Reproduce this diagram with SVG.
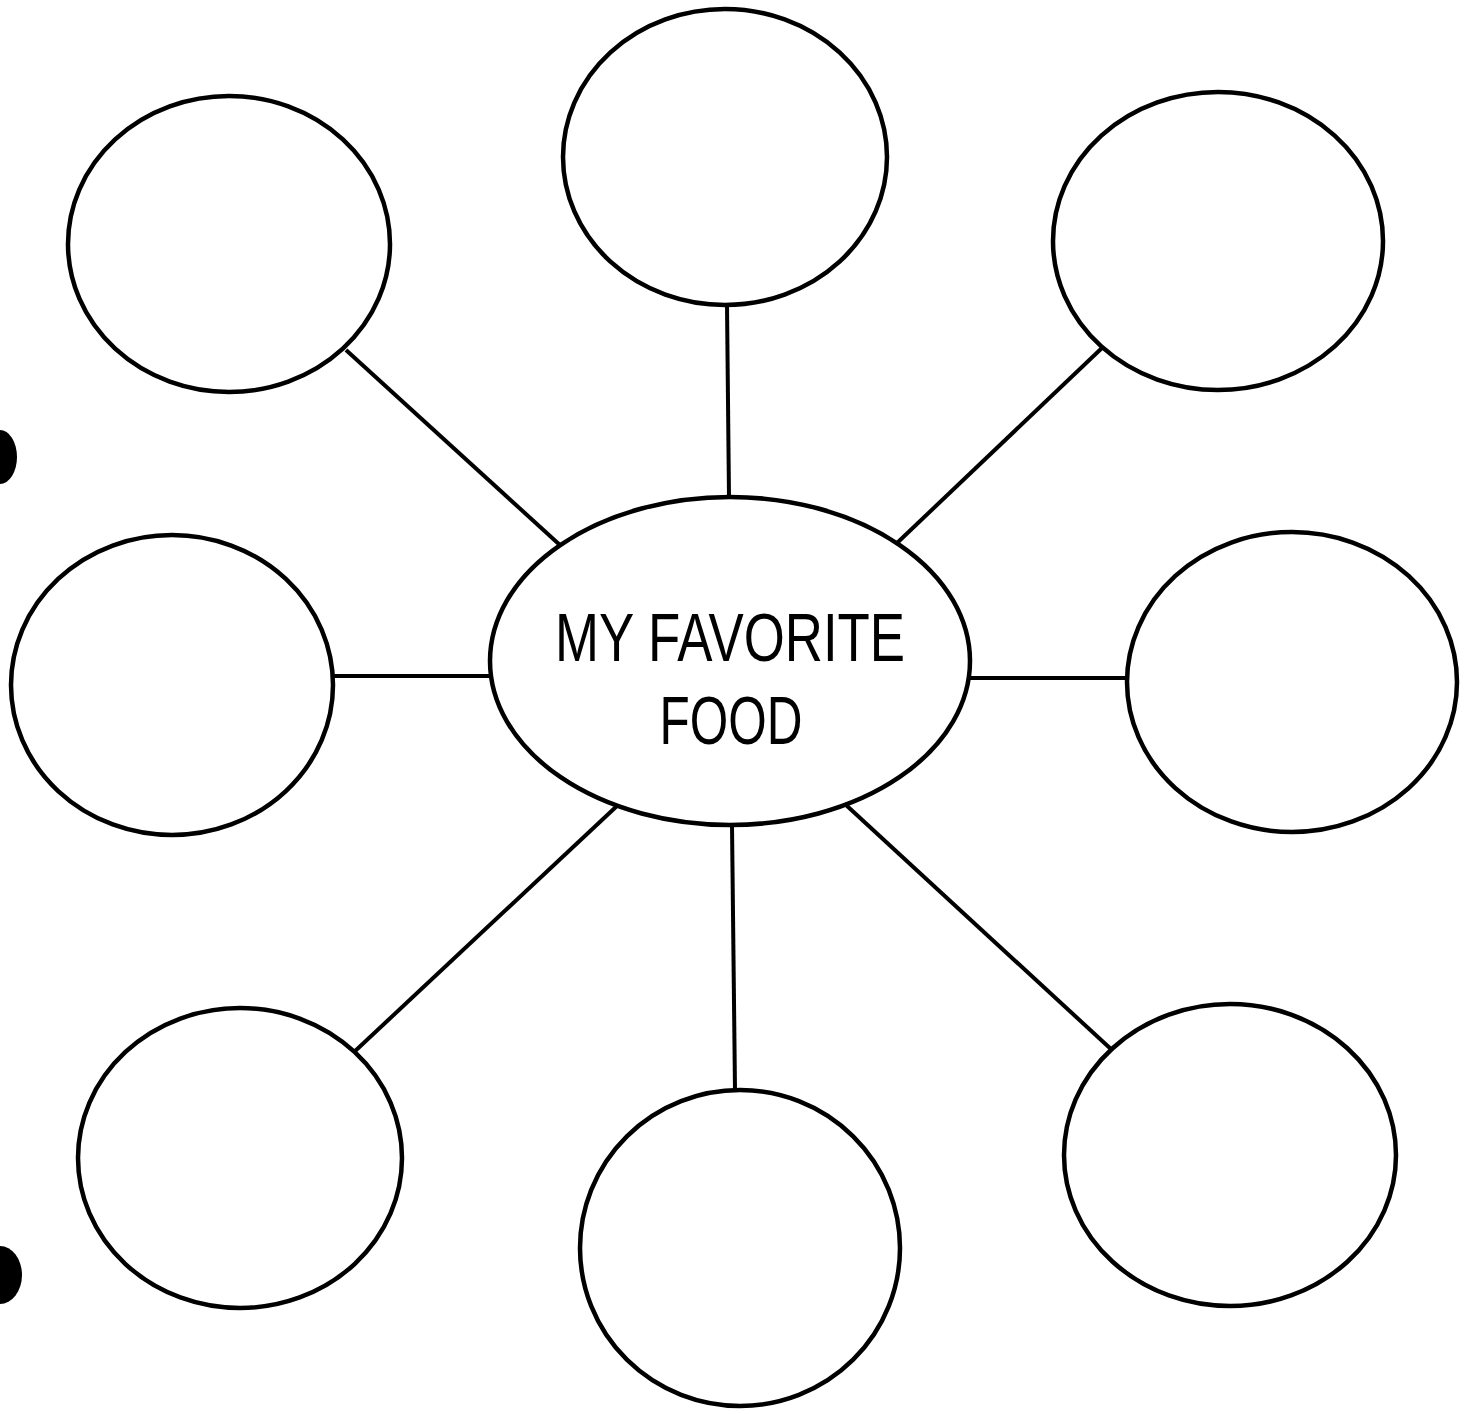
<svg xmlns="http://www.w3.org/2000/svg" width="1466" height="1414" viewBox="0 0 1466 1414">
<style>
.n{fill:#fff;stroke:#000;stroke-width:4.5}
.c{stroke:#000;stroke-width:4;fill:none}
.t{font-family:"Liberation Sans","DejaVu Sans",sans-serif;font-size:68px;fill:#000;text-anchor:middle}
</style>
<rect width="1466" height="1414" fill="#fff"/>
<g id="holes">
<ellipse cx="0" cy="457" rx="17" ry="27" fill="#000"/>
<ellipse cx="0" cy="1275" rx="22" ry="29" fill="#000"/>
</g>
<g id="connectors">
<line class="c" x1="727" y1="305" x2="729" y2="498"/>
<line class="c" x1="346" y1="350" x2="561" y2="546"/>
<line class="c" x1="1103" y1="347" x2="897" y2="543"/>
<line class="c" x1="333" y1="676" x2="491" y2="676"/>
<line class="c" x1="969" y1="678" x2="1128" y2="678"/>
<line class="c" x1="618" y1="805" x2="353" y2="1053"/>
<line class="c" x1="732" y1="825" x2="735" y2="1090"/>
<line class="c" x1="846" y1="805" x2="1112" y2="1050"/>
</g>
<g id="top"><ellipse class="n" cx="725" cy="157" rx="162" ry="148"/></g>
<g id="top-left"><ellipse class="n" cx="229" cy="244" rx="161" ry="148"/></g>
<g id="top-right"><ellipse class="n" cx="1218" cy="241" rx="165" ry="149"/></g>
<g id="left"><ellipse class="n" cx="172" cy="685" rx="161" ry="150"/></g>
<g id="right"><ellipse class="n" cx="1292" cy="682" rx="165" ry="150"/></g>
<g id="bottom-left"><ellipse class="n" cx="240" cy="1158" rx="162" ry="150"/></g>
<g id="bottom"><ellipse class="n" cx="740" cy="1248" rx="160" ry="158"/></g>
<g id="bottom-right"><ellipse class="n" cx="1230" cy="1155" rx="166" ry="151"/></g>
<g id="center">
<ellipse class="n" cx="730" cy="661" rx="240" ry="164"/>
<text class="t" x="730" y="661" textLength="350" lengthAdjust="spacingAndGlyphs">MY FAVORITE</text>
<text class="t" x="731" y="744" textLength="143" lengthAdjust="spacingAndGlyphs">FOOD</text>
</g>
</svg>
